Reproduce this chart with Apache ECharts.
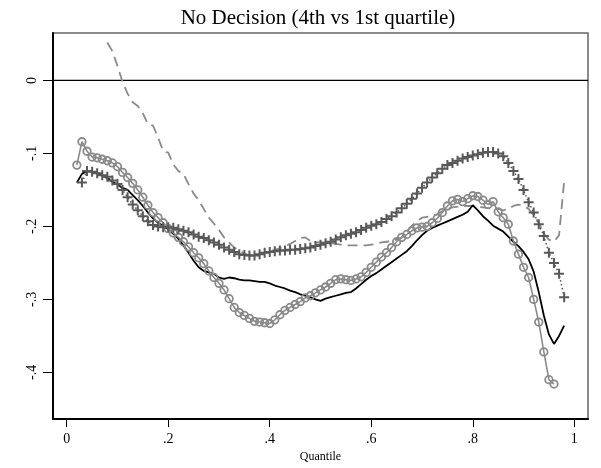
<!DOCTYPE html>
<html>
<head>
<meta charset="utf-8">
<script src="https://cdn.jsdelivr.net/npm/echarts@6/dist/echarts.min.js"></script>
<style>
  html, body { margin: 0; padding: 0; background: #fff; }
  #chart { width: 601px; height: 468px; }
</style>
</head>
<body>
<div id="chart"></div>
<script>
// Quantile grid
const quantiles = [
  0.02,0.03,0.04,0.05,0.06,0.07,0.08,0.09,0.10,0.11,0.12,0.13,0.14,0.15,0.16,0.17,0.18,0.19,0.20,
  0.21,0.22,0.23,0.24,0.25,0.26,0.27,0.28,0.29,0.30,0.31,0.32,0.33,0.34,0.35,0.36,0.37,0.38,0.39,0.40,
  0.41,0.42,0.43,0.44,0.45,0.46,0.47,0.48,0.49,0.50,0.51,0.52,0.53,0.54,0.55,0.56,0.57,0.58,0.59,0.60,
  0.61,0.62,0.63,0.64,0.65,0.66,0.67,0.68,0.69,0.70,0.71,0.72,0.73,0.74,0.75,0.76,0.77,0.78,0.79,0.80,
  0.81,0.82,0.83,0.84,0.85,0.86,0.87,0.88,0.89,0.90,0.91,0.92,0.93,0.94,0.95,0.96,0.97,0.98
];

// Solid black estimate
const solidLine = [
  -0.140,-0.128,-0.124,-0.125,-0.127,-0.130,-0.134,-0.139,-0.143,-0.147,-0.150,-0.157,-0.164,-0.172,-0.181,-0.189,-0.195,-0.199,-0.204,
  -0.210,-0.217,-0.226,-0.236,-0.247,-0.256,-0.261,-0.263,-0.265,-0.270,-0.272,-0.270,-0.271,-0.273,-0.274,-0.274,-0.275,-0.276,-0.276,-0.278,
  -0.281,-0.283,-0.285,-0.288,-0.290,-0.293,-0.295,-0.297,-0.300,-0.302,-0.299,-0.297,-0.295,-0.293,-0.291,-0.290,-0.285,-0.279,-0.273,-0.268,
  -0.264,-0.259,-0.254,-0.249,-0.244,-0.239,-0.234,-0.227,-0.219,-0.212,-0.206,-0.202,-0.199,-0.196,-0.193,-0.190,-0.187,-0.184,-0.180,-0.171,
  -0.178,-0.186,-0.192,-0.199,-0.203,-0.207,-0.214,-0.221,-0.227,-0.235,-0.245,-0.262,-0.290,-0.322,-0.348,-0.361,-0.350,-0.336
];

// Gray line with hollow circle markers
const circleLine = [
  -0.116,-0.084,-0.097,-0.105,-0.106,-0.108,-0.110,-0.113,-0.118,-0.126,-0.133,-0.141,-0.150,-0.160,-0.171,-0.181,-0.188,-0.195,-0.203,
  -0.209,-0.215,-0.221,-0.228,-0.236,-0.243,-0.251,-0.261,-0.270,-0.278,-0.287,-0.299,-0.311,-0.318,-0.322,-0.326,-0.330,-0.331,-0.332,-0.333,
  -0.328,-0.321,-0.315,-0.311,-0.307,-0.303,-0.298,-0.295,-0.291,-0.287,-0.283,-0.278,-0.273,-0.272,-0.273,-0.274,-0.272,-0.269,-0.263,-0.256,
  -0.249,-0.242,-0.236,-0.229,-0.221,-0.215,-0.211,-0.206,-0.202,-0.201,-0.200,-0.195,-0.189,-0.181,-0.172,-0.165,-0.163,-0.166,-0.162,-0.158,
  -0.159,-0.164,-0.170,-0.166,-0.180,-0.188,-0.197,-0.220,-0.238,-0.256,-0.270,-0.300,-0.331,-0.372,-0.410,-0.416,null,null
];

// Dark gray line with plus markers
const plusLine = [
  null,-0.140,-0.124,-0.125,-0.127,-0.130,-0.132,-0.137,-0.142,-0.150,-0.160,-0.170,-0.178,-0.186,-0.193,-0.198,-0.200,-0.201,-0.201,
  -0.202,-0.204,-0.206,-0.208,-0.211,-0.214,-0.216,-0.219,-0.222,-0.225,-0.229,-0.232,-0.235,-0.238,-0.239,-0.240,-0.240,-0.238,-0.236,-0.235,
  -0.234,-0.233,-0.233,-0.232,-0.232,-0.231,-0.230,-0.229,-0.227,-0.225,-0.223,-0.221,-0.218,-0.215,-0.212,-0.210,-0.208,-0.205,-0.202,-0.199,
  -0.197,-0.194,-0.190,-0.186,-0.181,-0.175,-0.169,-0.162,-0.155,-0.147,-0.140,-0.133,-0.127,-0.121,-0.116,-0.113,-0.110,-0.107,-0.105,-0.103,
  -0.101,-0.099,-0.098,-0.098,-0.100,-0.104,-0.113,-0.124,-0.135,-0.150,-0.167,-0.181,-0.197,-0.213,-0.236,-0.250,-0.265,-0.297
];

// Dashed gray estimate
const dashedLine = [
  null,null,null,null,null,null,0.052,0.040,0.020,-0.002,-0.018,-0.030,-0.035,-0.045,-0.060,-0.062,-0.078,-0.097,-0.099,
  -0.115,-0.124,-0.128,-0.142,-0.155,-0.164,-0.176,-0.188,-0.196,-0.205,-0.215,-0.222,-0.229,-0.233,-0.237,-0.240,-0.240,-0.238,-0.236,-0.234,
  -0.232,-0.230,-0.227,-0.224,-0.220,-0.216,-0.215,-0.220,-0.222,-0.222,-0.222,-0.223,-0.224,-0.225,-0.226,-0.226,-0.226,-0.226,-0.226,-0.225,
  -0.224,-0.222,-0.221,-0.220,-0.218,-0.215,-0.207,-0.199,-0.193,-0.188,-0.187,-0.186,-0.183,-0.179,-0.176,-0.174,-0.173,-0.172,-0.172,-0.172,
  -0.173,-0.174,-0.175,-0.176,-0.176,-0.178,-0.176,-0.172,-0.170,-0.172,-0.176,-0.185,-0.195,-0.210,-0.218,-0.221,-0.212,-0.138
];

const xTicks = [0, 0.2, 0.4, 0.6, 0.8, 1];
const yTicks = [-0.4, -0.3, -0.2, -0.1, 0];

const title = 'No Decision (4th vs 1st quartile)';
const xTitle = 'Quantile';

function pairs(ys) {
  return quantiles.map((q, i) => [q, ys[i]]);
}
function tickText(v) {
  if (Math.abs(v) < 1e-9) return '0';
  if (Math.abs(v - 1) < 1e-9) return '1';
  const s = String(Math.round(v * 10) / 10);
  return s.replace('0.', '.');
}

const serif = '"Liberation Serif", "DejaVu Serif", serif';
// filled cross used as a "+" marker
const plusPath = 'path://M4,0H6V4H10V6H6V10H4V6H0V4H4Z';

const chart = echarts.init(document.getElementById('chart'), null, { renderer: 'canvas' });
chart.setOption({
  animation: false,
  backgroundColor: '#ffffff',
  title: {
    text: title,
    left: 313, top: 3, textAlign: 'center',
    textStyle: { fontFamily: serif, fontSize: 21, fontWeight: 'normal', color: '#000' }
  },
  grid: { left: 53, top: 33, right: 13, bottom: 47, show: true, borderColor: '#666', borderWidth: 1.5, backgroundColor: '#fff' },
  xAxis: {
    type: 'value', min: -0.027, max: 1.027,
    name: xTitle, nameLocation: 'middle', nameGap: 31,
    nameTextStyle: { fontFamily: serif, fontSize: 12, color: '#000' },
    axisLine: { show: true, onZero: false, lineStyle: { color: '#000', width: 2 } },
    axisTick: { show: true, length: 8, customValues: xTicks, lineStyle: { color: '#000', width: 1 } },
    axisLabel: { customValues: xTicks, formatter: tickText, fontFamily: serif, fontSize: 14, color: '#000', margin: 13 },
    splitLine: { show: false }
  },
  yAxis: {
    type: 'value', min: -0.464, max: 0.065,
    axisLine: { show: true, onZero: false, lineStyle: { color: '#000', width: 2 } },
    axisTick: { show: true, length: 10, customValues: yTicks, lineStyle: { color: '#000', width: 1 } },
    axisLabel: { customValues: yTicks, formatter: tickText, rotate: 90, fontFamily: serif, fontSize: 14, color: '#000', margin: 14 },
    splitLine: { show: false }
  },
  series: [
    {
      name: 'zero', type: 'line', data: [[-0.027, 0], [1.027, 0]],
      symbol: 'none', silent: true, z: 1,
      lineStyle: { color: '#000', width: 1.2 }
    },
    {
      name: 'solid', type: 'line', data: pairs(solidLine),
      symbol: 'none', z: 3,
      lineStyle: { color: '#000', width: 1.8 }
    },
    {
      name: 'circles', type: 'line', data: pairs(circleLine),
      symbol: 'circle', symbolSize: 7.5, showAllSymbol: true, z: 4,
      lineStyle: { color: '#8a8a8a', width: 1.6 },
      itemStyle: { color: 'rgba(0,0,0,0)', borderColor: '#8a8a8a', borderWidth: 1.8 }
    },
    {
      name: 'plus', type: 'line', data: pairs(plusLine),
      symbol: plusPath, symbolSize: 10, showAllSymbol: true, z: 5,
      lineStyle: { color: '#555', width: 1.5, type: [1.5, 2.5] },
      itemStyle: { color: '#595959' }
    },
    {
      name: 'dashed', type: 'line', data: pairs(dashedLine),
      symbol: 'none', z: 2,
      lineStyle: { color: '#8a8a8a', width: 1.8, type: [10, 6] }
    }
  ]
});
</script>
</body>
</html>
